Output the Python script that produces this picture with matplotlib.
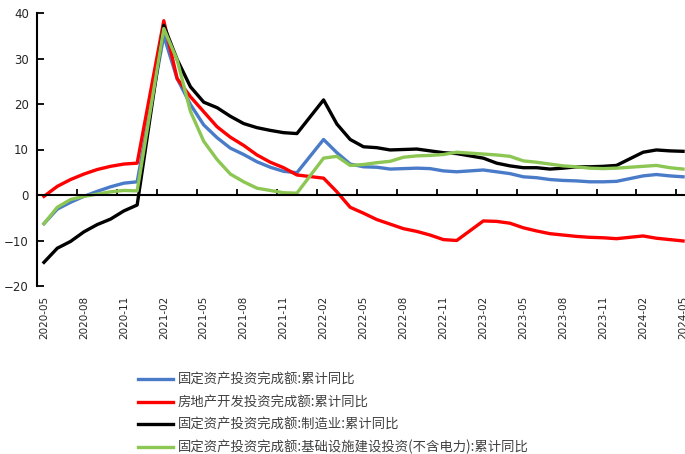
import pandas as pd
import matplotlib.pyplot as plt

plt.rcParams['font.family'] = ['DejaVu Sans']

# Months (no January figures: Jan-Feb is published as one cumulative number)
months = [p.strftime('%Y-%m') for p in pd.period_range('2020-05', '2024-05', freq='M')
          if p.month != 1]

# Cumulative YoY growth, %
fai = [-6.3, -3.1, -1.6, -0.3, 0.8, 1.8, 2.6, 2.9,
       35.0, 25.6, 19.9, 15.4, 12.6, 10.3, 8.9, 7.3, 6.1, 5.2, 4.9,
       12.2, 9.3, 6.8, 6.2, 6.1, 5.7, 5.8, 5.9, 5.8, 5.3, 5.1,
       5.5, 5.1, 4.7, 4.0, 3.8, 3.4, 3.2, 3.1, 2.9, 2.9, 3.0,
       4.2, 4.5, 4.2, 4.0]
real_estate = [-0.3, 1.9, 3.4, 4.6, 5.6, 6.3, 6.8, 7.0,
               38.3, 25.6, 21.6, 18.3, 15.0, 12.7, 10.9, 8.8, 7.2, 6.0, 4.4,
               3.7, 0.7, -2.7, -4.0, -5.4, -6.4, -7.4, -8.0, -8.8, -9.8, -10.0,
               -5.7, -5.8, -6.2, -7.2, -7.9, -8.5, -8.8, -9.1, -9.3, -9.4, -9.6,
               -9.0, -9.5, -9.8, -10.1]
manufacturing = [-14.8, -11.7, -10.2, -8.1, -6.5, -5.3, -3.5, -2.2,
                 37.3, 29.8, 23.8, 20.4, 19.2, 17.3, 15.7, 14.8, 14.2, 13.7, 13.5,
                 20.9, 15.6, 12.2, 10.6, 10.4, 9.9, 10.0, 10.1, 9.7, 9.3, 9.1,
                 8.1, 7.0, 6.4, 6.0, 6.0, 5.7, 5.9, 6.2, 6.2, 6.3, 6.5,
                 9.4, 9.9, 9.7, 9.6]
infrastructure = [-6.3, -2.7, -1.0, -0.3, 0.2, 0.7, 1.0, 0.9,
                  36.6, 29.7, 18.4, 11.8, 7.8, 4.6, 2.9, 1.5, 1.0, 0.5, 0.4,
                  8.1, 8.5, 6.5, 6.7, 7.1, 7.4, 8.3, 8.6, 8.7, 8.9, 9.4,
                  9.0, 8.8, 8.5, 7.5, 7.2, 6.8, 6.4, 6.2, 5.9, 5.8, 5.9,
                  6.3, 6.5, 6.0, 5.7]

labels = ['固定资产投资完成额:累计同比',
          '房地产开发投资完成额:累计同比',
          '固定资产投资完成额:制造业:累计同比',
          '固定资产投资完成额:基础设施建设投资(不含电力):累计同比']
colors = ['#4A7BC8', '#FF0000', '#000000', '#8CC653']

# month index on a continuous monthly axis
per = pd.PeriodIndex(months, freq='M')
x = [(p - per[0]).n for p in per]
tick_months = [p.strftime('%Y-%m') for p in pd.period_range('2020-05', '2024-05', freq='3M')]
tick_x = [(pd.Period(m, freq='M') - per[0]).n for m in tick_months]

fig = plt.figure(figsize=(6.85, 4.54), dpi=100)
ax = fig.add_axes([37.3 / 685, 1 - 286 / 454, 652.4 / 685, 273 / 454])

lines = []
for ys, c, lab in zip([fai, real_estate, manufacturing, infrastructure], colors, labels):
    ln, = ax.plot(x, ys, color=c, lw=2.4, label=lab, solid_joinstyle='round')
    lines.append(ln)

ax.set_xlim(-0.5, 48.5)
ax.set_ylim(-20, 40)
ax.set_yticks(range(-20, 41, 10))

for s in ['top', 'right']:
    ax.spines[s].set_visible(False)
ax.spines['left'].set_linewidth(1.5)
ax.spines['bottom'].set_position(('data', 0))
ax.spines['bottom'].set_linewidth(1.5)

# tick marks sit between months, labels sit on the months
ax.set_xticks([t - 0.5 for t in tick_x[1:]])
ax.tick_params(axis='x', direction='in', length=4, width=1.3, labelbottom=False)
ax.tick_params(axis='y', direction='in', length=5, width=1.3, labelsize=8.5,
               labelcolor='#262626', pad=6)

sec = ax.secondary_xaxis('bottom')
sec.spines['bottom'].set_visible(False)
sec.set_xticks(tick_x)
sec.set_xticklabels(tick_months, rotation=90)
sec.tick_params(length=0, labelsize=7.5, labelcolor='#262626', pad=7)

fig.legend(handles=lines, loc='upper left', bbox_to_anchor=(138 / 685, 1 - 373 / 454),
           frameon=False, borderpad=0, borderaxespad=0, handlelength=2.6,
           handletextpad=0.4, labelspacing=0.62,
           prop={'family': ['Noto Sans CJK SC', 'DejaVu Sans'], 'size': 9.6},
           labelcolor='#404040')

fig.savefig('out.png', dpi=100)
